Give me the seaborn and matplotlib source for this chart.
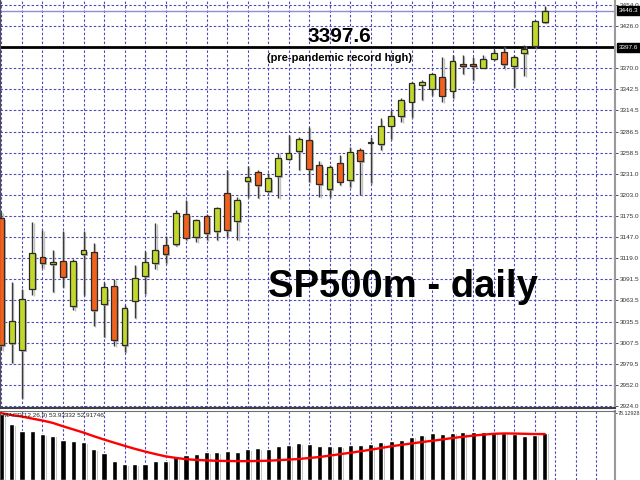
import matplotlib
matplotlib.use("Agg")
import matplotlib.pyplot as plt
import matplotlib.patheffects as pe
import matplotlib.transforms as mtransforms
import numpy as np
import pandas as pd
import seaborn as sns

sns.set_style("white")
plt.rcParams['font.family'] = ['Liberation Sans', 'DejaVu Sans']

# ---------------- DATA ----------------
opens = [3172.0, 3007.2, 2998.0, 3079.0, 3120.8, 3111.6, 3115.5, 3056.1, 3124.8, 3127.4,
         3058.7, 3082.9, 3004.6, 3063.1, 3095.7, 3112.9, 3136.7, 3138.0, 3177.2, 3146.9,
         3175.0, 3155.2, 3205.4, 3168.4, 3221.2, 3233.5, 3208.0, 3227.8, 3250.7, 3260.9,
         3275.8, 3242.4, 3210.7, 3245.0, 3222.5, 3262.2, 3272.0, 3270.1, 3294.3, 3307.1,
         3326.0, 3348.4, 3343.2, 3358.2, 3340.5, 3375.4, 3375.4, 3370.9, 3382.8, 3391.2,
         3372.7, 3389.9, 3400.0, 3431.3]
closes = [3004.6, 3036.3, 3065.3, 3126.5, 3112.9, 3114.2, 3094.8, 3115.5, 3130.1, 3050.8,
          3081.2, 3011.2, 3053.5, 3093.1, 3114.2, 3130.5, 3124.8, 3179.0, 3146.3, 3169.3,
          3152.5, 3185.6, 3156.5, 3196.1, 3226.5, 3215.5, 3225.2, 3251.6, 3258.2, 3276.7,
          3236.7, 3216.9, 3239.7, 3220.3, 3259.5, 3247.6, 3272.6, 3294.3, 3307.1, 3328.2,
          3350.7, 3352.0, 3362.6, 3333.9, 3379.7, 3373.1, 3373.1, 3382.8, 3390.3, 3375.4,
          3385.4, 3395.6, 3432.2, 3446.3]
highs = [3180.7, 3087.8, 3078.6, 3167.0, 3156.5, 3130.1, 3155.2, 3118.2, 3155.2, 3139.3,
         3088.2, 3091.8, 3057.4, 3110.3, 3129.2, 3165.7, 3148.6, 3182.9, 3196.1, 3171.0,
         3177.6, 3187.3, 3235.8, 3200.5, 3241.0, 3235.8, 3231.8, 3258.6, 3282.0, 3279.8,
         3292.6, 3248.0, 3242.4, 3255.6, 3266.5, 3264.8, 3279.8, 3304.0, 3315.0, 3330.9,
         3352.0, 3354.6, 3364.0, 3385.4, 3387.7, 3387.7, 3385.4, 3387.7, 3396.5, 3399.6,
         3387.7, 3400.9, 3433.9, 3452.8]
lows = [2998.0, 2981.2, 2934.6, 3070.6, 3106.3, 3075.0, 3081.6, 3050.8, 3070.6, 3030.1,
        3015.5, 3003.3, 2995.7, 3040.2, 3072.0, 3105.0, 3112.9, 3135.8, 3143.3, 3140.6,
        3143.3, 3143.3, 3147.6, 3143.3, 3200.5, 3198.8, 3207.1, 3198.8, 3249.0, 3235.8,
        3220.3, 3200.5, 3200.1, 3215.9, 3213.7, 3202.7, 3219.0, 3262.2, 3276.7, 3299.6,
        3306.2, 3328.2, 3334.8, 3326.0, 3330.9, 3362.6, 3354.6, 3370.5, 3381.1, 3370.1,
        3345.8, 3359.9, 3396.5, 3430.3]

macd_main = [77.5, 65.3, 57.7, 56.6, 53.6, 51.9, 47.0, 45.1, 44.0, 35.8,
             31.5, 21.8, 18.3, 18.3, 19.0, 21.8, 22.5, 28.0, 28.8, 30.7,
             32.1, 32.6, 34.4, 33.2, 36.1, 37.3, 36.7, 39.1, 40.8, 42.6,
             42.0, 39.6, 39.6, 39.1, 40.8, 40.8, 42.0, 44.3, 45.5, 46.6,
             50.5, 52.5, 54.5, 53.3, 55.2, 55.6, 55.6, 55.6, 55.6, 54.5,
             53.3, 51.7, 52.8, 55.2]
macd_signal = [77.9, 75.8, 74.0, 71.6, 69.4, 66.6, 62.7, 59.0, 55.3, 51.1,
               47.2, 43.5, 39.9, 36.4, 33.2, 30.3, 27.6, 25.8, 24.3, 23.4,
               22.9, 22.4, 22.2, 22.0, 22.0, 22.2, 22.5, 23.1, 23.8, 24.5,
               25.7, 26.8, 28.4, 30.1, 31.7, 33.5, 35.3, 37.3, 39.3, 41.0,
               42.6, 44.3, 45.7, 47.3, 49.0, 50.4, 51.8, 52.9, 53.9, 54.3,
               54.2, 53.9, 53.6, 53.6]

price_ticks = [3454.0, 3426.0, 3370.0, 3342.5, 3314.5, 3286.5, 3258.5, 3231.0, 3203.0,
               3175.0, 3147.0, 3119.0, 3091.5, 3063.5, 3035.5, 3007.5, 2979.5, 2952.0, 2924.0]
record_high = 3397.6
last_price = 3446.3
macd_top = 78.12928

df = pd.DataFrame({'open': opens, 'high': highs, 'low': lows, 'close': closes,
                   'macd': macd_main, 'signal': macd_signal})
df['day'] = np.arange(len(df))
up = df['close'] >= df['open']

# ---------------- FIGURE ----------------
fig = plt.figure(figsize=(6.4, 4.8), dpi=100)
ax = fig.add_axes([0, 1 - 408 / 480, 615 / 640, 408 / 480])
ax2 = fig.add_axes([0, 0, 615 / 640, 69 / 480])

grid_kw = dict(color='#4a4ab8', linestyle=(0, (2.2, 1.8)), linewidth=0.8)
patch_shadow = [pe.SimplePatchShadow(offset=(1.2, -1.2), shadow_rgbFace='#9c9c9c', alpha=0.7), pe.Normal()]
line_shadow = [pe.SimpleLineShadow(offset=(1.0, -1.0), shadow_color='#a8a8a8', alpha=0.7), pe.Normal()]

# candles
ax.vlines(df['day'], df['low'], df['high'], color='#3a3a3a', lw=1, zorder=2,
          path_effects=line_shadow)
body_lo = np.minimum(df['open'], df['close'])
body_h = np.maximum((df['close'] - df['open']).abs(), 0.9)
ax.bar(df['day'], body_h, bottom=body_lo, width=0.58,
       color=np.where(up, '#c2d82c', '#f0621e'), edgecolor='#2a2a2a', linewidth=0.9,
       zorder=3, path_effects=patch_shadow)

ax.axhline(last_price, color='#8c8cd8', lw=1, zorder=1)
ax.axhline(record_high, color='black', lw=2, zorder=1)

ax.set_xlim(-0.146, 59.85)
ax.set_ylim(2921.4, 3460.3)
ax.set_xticks(np.arange(0, 60, 2))
ax.set_yticks(price_ticks)
ax.set_yticklabels([f"{v:.1f}" for v in price_ticks])
ax.yaxis.tick_right()
ax.tick_params(axis='y', labelsize=4.6, length=2, width=0.6, pad=1.5, colors='#333333')
ax.tick_params(axis='x', length=0, labelbottom=False)
ax.grid(True, **grid_kw)
ax.set_axisbelow(True)
ax.spines['top'].set_visible(False)
ax.spines['left'].set_color('#505050')
ax.spines['bottom'].set_color('#404040')
ax.spines['bottom'].set_linewidth(1.5)
ax.spines['right'].set_color('#9a9a9a')
ax.spines['right'].set_linewidth(1.5)

# price boxes on the right axis
trans = mtransforms.blended_transform_factory(ax.transAxes, ax.transData)
for v in [last_price, record_high]:
    ax.text(1.006, v, f"{v:.1f}", transform=trans, ha='left', va='center', fontsize=4.6,
            color='white', clip_on=False,
            bbox=dict(boxstyle='square,pad=0.3', fc='black', ec='black'))

# annotations
ax.text(33.0, record_high + 1.8, "3397.6", ha='center', va='bottom', fontsize=15,
        fontweight='bold', color='black')
ax.text(33.0, 3383.7, "(pre-pandemic record high)", ha='center', va='center', fontsize=8,
        fontweight='bold', color='black')
ax.text(0.655, 0.297, "SP500m - daily", transform=ax.transAxes, ha='center', va='center',
        fontsize=27.5, fontweight='bold', color='black')

# ---------------- MACD ----------------
ax2.bar(df['day'], df['macd'], width=0.49, color='black', zorder=2,
        path_effects=patch_shadow)
sns.lineplot(x=df['day'], y=df['signal'], color='#ff0000', lw=1.7, ax=ax2, zorder=3)
ax2.set_xlim(-0.146, 59.85)
ax2.set_ylim(0, 80.5)
ax2.set_xlabel("")
ax2.set_ylabel("")
ax2.set_xticks(np.arange(0, 60, 2))
ax2.set_yticks([macd_top])
ax2.set_yticklabels([f"{macd_top:.5f}"])
ax2.yaxis.tick_right()
ax2.tick_params(axis='y', labelsize=3.9, length=1.2, width=0.6, pad=0.6, colors='#333333')
ax2.tick_params(axis='x', length=0, labelbottom=False)
ax2.grid(True, axis='x', **grid_kw)
ax2.set_axisbelow(True)
ax2.spines['bottom'].set_visible(False)
ax2.spines['top'].set_color('#707070')
ax2.spines['left'].set_color('#505050')
ax2.spines['right'].set_color('#9a9a9a')
ax2.spines['right'].set_linewidth(1.5)
ax2.text(0.005, 0.94, "MACD(12,26,9) 53.93332 52.91746", transform=ax2.transAxes,
         ha='left', va='center', fontsize=4.6, color='#222222', zorder=4)

fig.savefig("out.png", dpi=100)
